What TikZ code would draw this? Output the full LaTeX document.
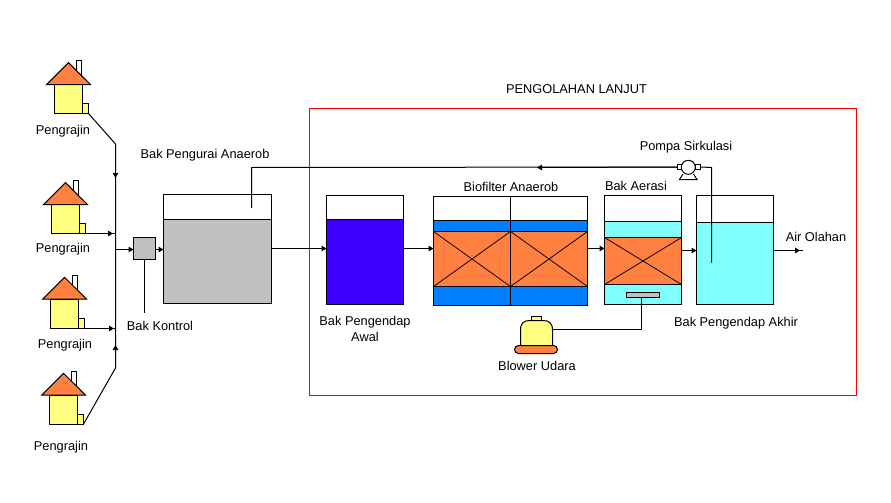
\documentclass[tikz,border=0pt]{standalone}
\usepackage{fontspec}
\setmainfont{Liberation Sans}
\usetikzlibrary{arrows.meta,fit,shapes.geometric}
\definecolor{cgray}{HTML}{C0C0C0}
\definecolor{cblue}{HTML}{0080FF}
\definecolor{cdeep}{HTML}{4000FF}
\definecolor{caqua}{HTML}{80FFFF}
\definecolor{corange}{HTML}{FF8040}
\definecolor{cyellow}{HTML}{FFFF80}
\tikzset{
  lbl/.style={inner sep=0pt,font=\fontsize{12.8}{16}\selectfont,align=center},
  ln/.style={line width=1pt,black},
  flow/.style={ln,-{Triangle[length=5pt,width=5.5pt]},shorten >=0pt},
  blk/.style={draw=black,line width=1pt,inner sep=0pt,outer sep=0pt},
  thinx/.style={line width=.75pt,black},
  redbox/.style={draw=red,line width=1pt,inner sep=0pt,outer sep=0pt}
}
\newcommand{\rct}[6]{\node[blk,fill=#6,fit={(#2,#3)(#4,#5)}] (#1) {};}
\newcommand{\house}[3]{%
  \begin{scope}[shift={(#2,#3)}]
    \node[blk,fill=white,fit={(76.5,60.5)(81.5,78)}] (#1chim) {};
    \node[blk,fill=cyellow,fit={(54.5,84.5)(82.5,113.5)}] (#1body) {};
    \node[blk,fill=cyellow,fit={(82.5,103.5)(88.5,113.5)}] (#1annex) {};
    \filldraw[ln,fill=corange,line join=miter] (46.7,84.5) -- (68.5,62.7) -- (90.5,84.5) -- cycle;
  \end{scope}}
\begin{document}
\begin{tikzpicture}[x=1pt,y=-1pt]
\useasboundingbox (0,0) rectangle (891,503);
\fill[white] (0,0) rectangle (891,503);
% red frame
\node[redbox,fit={(309.5,108.5)(856.5,395.5)}] (frame) {};
\node[lbl] (tl) at (576.5,89.5) {PENGOLAHAN LANJUT};
% houses
\house{ha}{0}{0}
\house{hb}{-3}{120}
\house{hc}{-4}{214.6}
\house{hd}{-5}{310.6}
% collector
\coordinate (b1) at (115.5,144);
\coordinate (m1) at (115.5,178);
\coordinate (j2) at (115.5,233.5);
\coordinate (j0) at (115.5,249.5);
\coordinate (j3) at (115.5,328.5);
\coordinate (m4) at (115.5,345);
\coordinate (b4) at (115.5,368);
\draw[ln] (haannex.south east) -- (b1) -- (b4) -- (hdannex.south east);
\draw[flow] (b1) -- (m1);
\draw[flow] (b4) -- (m4);
\coordinate (m2) at (113,233.5);
\coordinate (m3) at (114,328.5);
\draw[flow] (hbannex.south east) |- (m2);
\draw[flow] (hcannex.south east) |- (m3);
\draw[ln] (m2) -- (j2);
\draw[ln] (m3) -- (j3);
% control box
\rct{kontrol}{133.5}{237.5}{155.5}{259.5}{cgray}
\draw[flow] (j0) -- (kontrol.west |- j0);
% anaerob tank
\node[blk,fill=white,fit={(163.5,194.5)(271.5,219.5)}] (anT) {};
\node[blk,fill=cgray,fit={(163.5,219.5)(271.5,303.5)}] (anW) {};
\coordinate (m5) at (163.5,249.5);
\draw[flow] (kontrol.east |- m5) -- (m5);
% settling tank
\node[blk,fill=white,fit={(326.5,195.5)(403.5,219.5)}] (awT) {};
\node[blk,fill=cdeep,fit={(326.5,219.5)(403.5,304.5)}] (awW) {};
\coordinate (y1) at (0,248.5);
\draw[flow] (anW.east |- y1) -- (awW.west |- y1);
% biofilter
\node[blk,fill=white,fit={(433.5,196.5)(587.5,220.5)}] (bfT) {};
\node[blk,fill=cblue,fit={(433.5,220.5)(587.5,231.5)}] (bfU) {};
\node[blk,fill=corange,fit={(433.5,231.5)(587.5,286.5)}] (bfM) {};
\node[blk,fill=cblue,fit={(433.5,286.5)(587.5,305.5)}] (bfL) {};
\coordinate (bfN) at (510.5,196.5);
\coordinate (bfS) at (510.5,305.5);
\draw[ln] (bfN) -- (bfS);
\draw[thinx] (bfM.north west) -- (bfM.south -| bfN) -- (bfM.north east) (bfM.south west) -- (bfM.north -| bfN) -- (bfM.south east);
\draw[ln] (bfM.north west) rectangle (bfM.south east);
\draw[flow] (awW.east |- y1) -- (bfM.west |- y1);
% aeration
\node[blk,fill=white,fit={(604.5,195.5)(681.5,221.5)}] (aeT) {};
\node[blk,fill=caqua,fit={(604.5,221.5)(681.5,237.5)}] (aeU) {};
\node[blk,fill=corange,fit={(604.5,237.5)(681.5,284.5)}] (aeM) {};
\node[blk,fill=caqua,fit={(604.5,284.5)(681.5,304.5)}] (aeL) {};
\draw[thinx] (aeM.north west) -- (aeM.south east) (aeM.south west) -- (aeM.north east);
\node[blk,fill=cgray,fit={(626.5,292.5)(659.5,297.5)}] (diff) {};
\draw[flow] (bfM.east |- y1) -- (aeM.west |- y1);
% final tank
\node[blk,fill=white,fit={(696.5,195.5)(773.5,222.5)}] (akT) {};
\node[blk,fill=caqua,fit={(696.5,222.5)(773.5,304.5)}] (akW) {};
\coordinate (y2) at (0,250.5);
\draw[flow] (aeM.east |- y2) -- (akW.west |- y2);
\coordinate (out) at (803,250.5);
\coordinate (outm) at (800,250.5);
\draw[flow] (akW.east |- y2) -- (outm);
\draw[ln] (outm) -- (out);
% pump and recirculation
\node[blk,fill=white,fit={(677,164.5)(682,169.5)}] (pl) {};
\node[blk,fill=white,fit={(695,164.5)(700,169.5)}] (pr) {};
\coordinate (pbl) at (679.5,179.5);
\coordinate (pbr) at (697,179.5);
\draw[ln,line join=miter] (683,174) -- (pbl) -- (pbr) -- (693.5,174);
\node[circle,blk,fill=white,minimum size=14pt] (pump) at (688.3,167.3) {};
\coordinate (rc1) at (711.5,167.5);
\coordinate (rc2) at (711.5,262.5);
\coordinate (rt) at (251.5,167.5);
\coordinate (rb) at (251.5,208);
\coordinate (rm) at (537,167.5);
\draw[ln] (rc2) -- (rc1) -- (pr.east);
\draw[ln] (pl.west) -- (rt) -- (rb);
\draw[flow] (pl.west) -- (rm);
% blower
\node[blk,fill=cyellow,fit={(531.5,316.5)(541.5,321.5)}] (knob) {};
\filldraw[ln,fill=cyellow] (520.5,345.5) -- (520.5,330) .. controls (520.5,323) and (524,320.5) .. (530,320.5) -- (543,320.5) .. controls (549,320.5) and (552.5,323) .. (552.5,330) -- (552.5,345.5) -- cycle;
\node[blk,fill=corange,rounded corners=4pt,fit={(514.5,345.5)(557.5,353.5)}] (blower) {};
\coordinate (bo) at (552.5,329.5);
\coordinate (ac) at (641.5,329.5);
\draw[ln] (bo) -- (ac) -- (diff.south -| ac);
% leader for Bak Kontrol
\coordinate (kl) at (144.5,313);
\draw[ln] (kontrol.south) -- (kl);
% labels
\node[lbl] (t1) at (63,131) {Pengrajin};
\node[lbl] (t2) at (63,249) {Pengrajin};
\node[lbl] (t3) at (65,345) {Pengrajin};
\node[lbl] (t4) at (61,447) {Pengrajin};
\node[lbl] (t5) at (205,155) {Bak Pengurai Anaerob};
\node[lbl] (t6) at (160,326) {Bak Kontrol};
\node[lbl] (t7) at (365,329) {Bak Pengendap\\Awal};
\node[lbl] (t8) at (511,187) {Biofilter Anaerob};
\node[lbl] (t9) at (636,186) {Bak Aerasi};
\node[lbl] (t10) at (686,147.5) {Pompa Sirkulasi};
\node[lbl] (t11) at (816,236.5) {Air Olahan};
\node[lbl] (t12) at (736,323.5) {Bak Pengendap Akhir};
\node[lbl] (t13) at (537,365.5) {Blower Udara};
\end{tikzpicture}
\end{document}
